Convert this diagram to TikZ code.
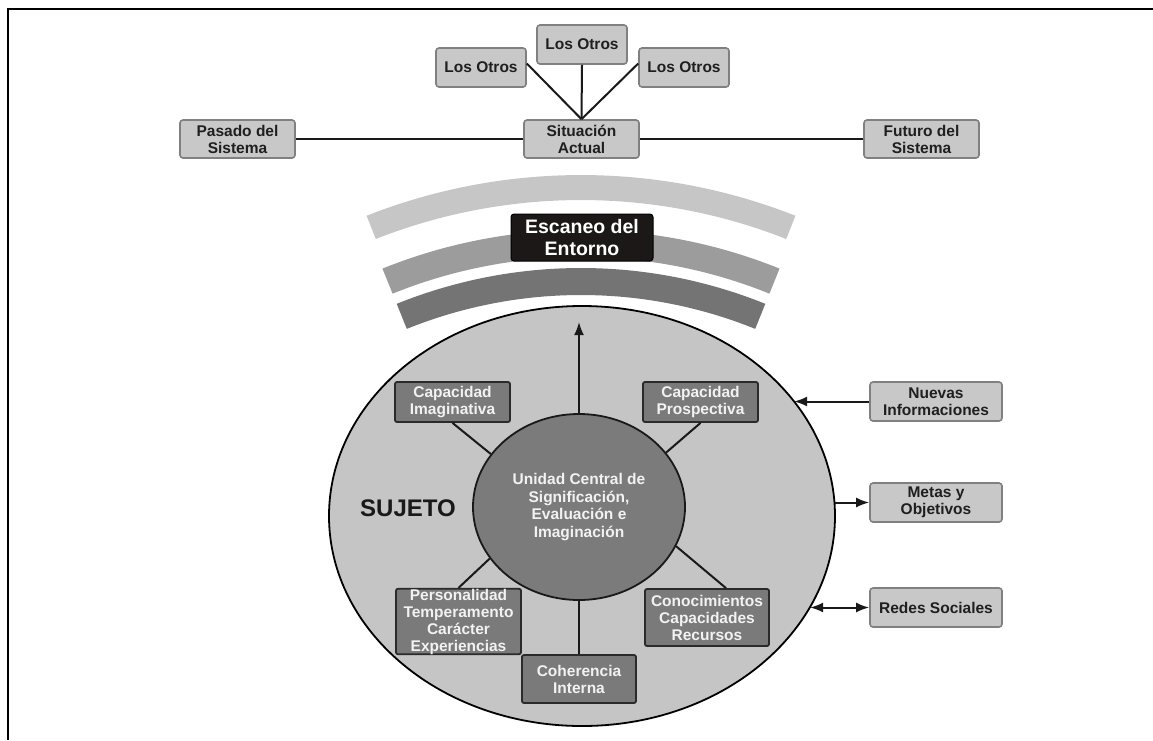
\documentclass[tikz,border=0pt]{standalone}
\usepackage{fontspec}
\setmainfont{Liberation Sans}
\usetikzlibrary{arrows.meta,shapes.geometric}

\definecolor{lightbox}{HTML}{C8C8C8}
\definecolor{boxedge}{HTML}{808080}
\definecolor{darkbox}{HTML}{7A7A7A}
\definecolor{darkedge}{HTML}{2A2A2A}
\definecolor{bandA}{HTML}{C6C6C6}
\definecolor{bandB}{HTML}{9C9C9C}
\definecolor{bandC}{HTML}{747474}
\definecolor{sujfill}{HTML}{C5C5C5}
\definecolor{corefill}{HTML}{7B7B7B}
\definecolor{scanfill}{HTML}{1C1818}

\begin{document}
\begin{tikzpicture}[x=1pt,y=-1pt,
  lbox/.style={draw=boxedge, fill=lightbox, rounded corners=3pt, line width=1.6pt,
    align=center, inner sep=0pt, text=black!88,
    font=\bfseries\fontsize{15.5}{17}\selectfont},
  dbox/.style={draw=darkedge, fill=darkbox, rounded corners=2pt, line width=1.8pt,
    align=center, inner sep=0pt, text=white!95!black,
    font=\bfseries\fontsize{15.5}{17}\selectfont},
  link/.style={line width=2pt, draw=black!90},
  tip/.style={-{Latex[length=13pt,width=10pt]}}
]
\useasboundingbox (0,0) rectangle (1153,740);

% frame
\draw[line width=2.8pt] (8,740) -- (8,9) -- (1153,9);

% timeline of the system
\node[lbox, minimum width=115pt, minimum height=38pt] (pasado) at (237.5,139) {Pasado del\\Sistema};
\node[lbox, minimum width=115pt, minimum height=38pt] (actual) at (581.5,139) {Situación\\Actual};
\node[lbox, minimum width=115pt, minimum height=38pt] (futuro) at (921.5,139) {Futuro del\\Sistema};
\node[lbox, minimum width=90pt, minimum height=39pt] (otrosL) at (481,67.5) {Los Otros};
\node[lbox, minimum width=90pt, minimum height=39pt] (otrosM) at (582,44.5) {Los Otros};
\node[lbox, minimum width=90pt, minimum height=39pt] (otrosR) at (684,67.5) {Los Otros};

\draw[link] (pasado.east) -- (actual.west);
\draw[link] (actual.east) -- (futuro.west);
\draw[link] ([yshift=4pt]otrosL.east) -- (actual.north);
\draw[link] (otrosM.south) -- (actual.north);
\draw[link] ([yshift=4pt]otrosR.west) -- (actual.north);

% scanning bands
\begin{scope}[shift={(581,760)}]
  \fill[bandA] (248.5:585) arc[start angle=248.5, end angle=291.5, radius=585]
    -- (291.5:560) arc[start angle=291.5, end angle=248.5, radius=560] -- cycle;
  \fill[bandB] (248:530) arc[start angle=248, end angle=292, radius=530]
    -- (292:503) arc[start angle=292, end angle=248, radius=503] -- cycle;
  \fill[bandC] (248:492) arc[start angle=248, end angle=292, radius=492]
    -- (292:465) arc[start angle=292, end angle=248, radius=465] -- cycle;
\end{scope}
\node[draw=black, fill=scanfill, rounded corners=3pt, line width=1pt,
  minimum width=142pt, minimum height=47pt, inner sep=0pt, align=center,
  text=white, font=\bfseries\fontsize{19.5}{22}\selectfont] (scan) at (582,237.5) {Escaneo del\\Entorno};

% subject
\node[ellipse, draw=black, fill=sujfill, line width=1.8pt,
  minimum width=506pt, minimum height=420pt, inner sep=0pt] (sujeto) at (582,516) {};
\node[font=\bfseries\fontsize{24}{26}\selectfont, text=black!90] (sujlbl) at (408,508) {SUJETO};

\node[ellipse, draw=black!90, fill=corefill, line width=1.8pt,
  minimum width=212pt, minimum height=186pt, inner sep=0pt, align=center,
  text=white!95!black, font=\bfseries\fontsize{15.5}{17.5}\selectfont] (core) at (579,507)
  {Unidad Central de\\Significación,\\Evaluación e\\Imaginación};

\coordinate (scanIn) at (579,322);
\draw[link, tip] (core.north) -- (scanIn);

\node[dbox, minimum width=115pt, minimum height=40pt] (imag) at (452.5,402) {Capacidad\\Imaginativa};
\node[dbox, minimum width=115pt, minimum height=40pt] (prosp) at (700.5,402) {Capacidad\\Prospectiva};
\node[dbox, minimum width=125pt, minimum height=65pt] (perso) at (458.5,621.5) {Personalidad\\Temperamento\\Carácter\\Experiencias};
\node[dbox, minimum width=124pt, minimum height=57pt] (conoc) at (707,617.5) {Conocimientos\\Capacidades\\Recursos};
\node[dbox, minimum width=114pt, minimum height=48pt] (coher) at (579,679) {Coherencia\\Interna};

\draw[link] (imag.south) -- (core.149);
\draw[link] (prosp.south) -- (core.32);
\draw[link] (perso.north) -- (core.210);
\draw[link] ([xshift=19pt]conoc.north) -- (core.338);
\draw[link] (core.south) -- (coher.north);

% exchanges with the outside
\node[lbox, minimum width=132pt, minimum height=39pt] (nuevas) at (936,401.5) {Nuevas\\Informaciones};
\node[lbox, minimum width=132pt, minimum height=39pt] (metas) at (936,502.5) {Metas y\\Objetivos};
\node[lbox, minimum width=132pt, minimum height=39pt] (redes) at (936,607.5) {Redes Sociales};

\coordinate (nuevasIn) at (794,401.5);
\coordinate (metasOut) at (834.5,502.5);
\coordinate (redesIO) at (810,607.5);
\draw[link, tip] (nuevas.west) -- (nuevasIn);
\draw[link, tip] (metasOut) -- (metas.west);
\draw[link, {Latex[length=13pt,width=10pt]}-{Latex[length=13pt,width=10pt]}] (redesIO) -- (redes.west);
\end{tikzpicture}
\end{document}
